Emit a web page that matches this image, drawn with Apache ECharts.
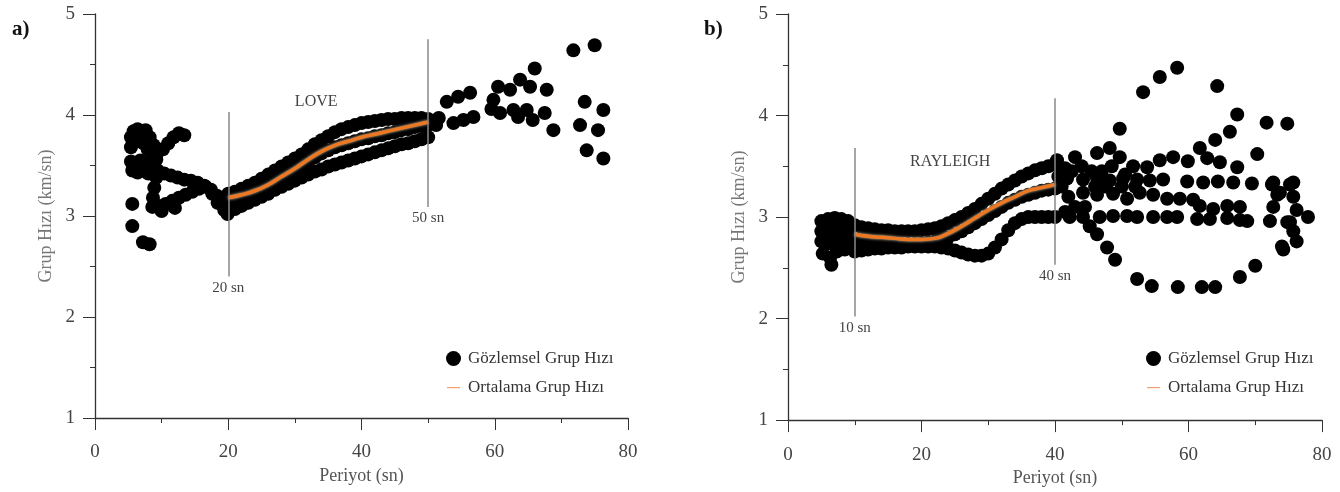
<!DOCTYPE html>
<html>
<head>
<meta charset="utf-8">
<script src="https://cdn.jsdelivr.net/npm/echarts@6/dist/echarts.min.js"></script>
<style>
  html, body { margin: 0; padding: 0; background: #fff; }
  #chart { width: 1340px; height: 492px; }
</style>
</head>
<body>
<div id="chart"></div>
<script>
// a) LOVE - gozlemsel grup hizi (kisa periyot dongusu)
var loveShort = [
    [5.4, 3.78], [5.8, 3.84], [6.4, 3.86], [7.0, 3.82], [7.6, 3.85], [8.2, 3.78], [5.4, 3.68],
    [6.4, 3.74], [7.3, 3.72], [7.9, 3.66], [8.6, 3.6], [9.2, 3.56],
    [8.8, 3.7], [9.4, 3.63], [10.2, 3.66], [11.0, 3.72], [11.8, 3.78], [12.6, 3.82], [13.4, 3.8],
    [5.4, 3.54], [6.0, 3.5], [6.8, 3.55], [7.6, 3.52], [8.4, 3.46], [9.4, 3.45], [10.4, 3.42],
    [5.6, 3.45], [6.4, 3.43], [7.2, 3.45], [8.0, 3.42],
    [11.4, 3.4], [12.4, 3.38], [13.4, 3.36], [14.4, 3.35], [15.4, 3.33], [16.4, 3.3], [17.4, 3.26],
    [18.3, 3.2], [18.9, 3.12], [19.4, 3.06], [19.9, 3.02],
    [9.2, 3.38], [8.9, 3.28], [8.7, 3.18],
    [8.6, 3.09], [9.6, 3.1], [10.6, 3.12], [11.6, 3.15], [12.6, 3.18], [13.6, 3.21], [14.6, 3.24],
    [15.6, 3.27], [16.6, 3.29], [17.6, 3.22], [18.4, 3.13], [10.0, 3.05], [12.0, 3.08],
    [5.6, 3.12], [5.6, 2.9], [7.2, 2.74], [8.2, 2.72]
];
var loveUpper = [
    [20, 3.22], [21, 3.24], [22, 3.27], [23, 3.3], [24, 3.33], [25, 3.37], [26, 3.41], [27, 3.45],
    [28, 3.49], [29, 3.53], [30, 3.57], [31, 3.61], [32, 3.66], [33, 3.71], [34, 3.75], [35, 3.79],
    [36, 3.83], [37, 3.86], [38, 3.88], [39, 3.9], [40, 3.92], [41, 3.93], [42, 3.94], [43, 3.95],
    [44, 3.96], [45, 3.96], [46, 3.97], [47, 3.97], [48, 3.97], [49, 3.97], [50, 3.96]
];
var loveMiddle = [
    [20, 3.14], [21, 3.16], [22, 3.18], [23, 3.2], [24, 3.23], [25, 3.26], [26, 3.29], [27, 3.33],
    [28, 3.37], [29, 3.41], [30, 3.45], [31, 3.5], [32, 3.54], [33, 3.58], [34, 3.62], [35, 3.65],
    [36, 3.68], [37, 3.7], [38, 3.72], [39, 3.74], [40, 3.76], [41, 3.77], [42, 3.79], [43, 3.8],
    [44, 3.82], [45, 3.83], [46, 3.85], [47, 3.86], [48, 3.88], [49, 3.89], [50, 3.9]
];
var loveLower = [
    [20, 3.04], [21, 3.07], [22, 3.1], [23, 3.13], [24, 3.16], [25, 3.19], [26, 3.22], [27, 3.26],
    [28, 3.29], [29, 3.32], [30, 3.35], [31, 3.38], [32, 3.41], [33, 3.44], [34, 3.46], [35, 3.49],
    [36, 3.51], [37, 3.53], [38, 3.55], [39, 3.57], [40, 3.59], [41, 3.61], [42, 3.63], [43, 3.65],
    [44, 3.67], [45, 3.69], [46, 3.71], [47, 3.72], [48, 3.74], [49, 3.76], [50, 3.78]
];
var loveLong = [
    [51.2, 3.9], [51.6, 3.97], [52.8, 4.13], [54.5, 4.18], [56.3, 4.22], [53.8, 3.92], [55.3, 3.95],
    [56.8, 3.98], [59.8, 4.15], [60.5, 4.28], [62.3, 4.25], [63.8, 4.35], [65.3, 4.28], [66.0, 4.46],
    [67.8, 4.25], [59.5, 4.06], [60.8, 4.02], [62.8, 4.05], [63.5, 3.98], [64.8, 4.05], [65.7, 3.95],
    [67.5, 4.02], [68.8, 3.85], [71.8, 4.64], [75.0, 4.69], [73.5, 4.13], [76.3, 4.05], [72.8, 3.9],
    [75.5, 3.85], [73.8, 3.65], [76.3, 3.57]
];
// a) ortalama grup hizi
var loveMean = [
    [20, 3.18], [22, 3.21], [24, 3.25], [26, 3.31], [28, 3.39], [30, 3.47], [32, 3.56], [34, 3.64],
    [36, 3.7], [38, 3.74], [40, 3.78], [42, 3.81], [44, 3.84], [46, 3.87], [48, 3.9], [50, 3.93]
];

// b) RAYLEIGH - gozlemsel grup hizi
var rayShort = [
    [5, 2.96], [6, 2.98], [7, 2.99], [8, 2.98], [9, 2.96], [5, 2.86], [6, 2.87], [7, 2.88], [8, 2.88],
    [9, 2.86], [5, 2.76], [6, 2.74], [7, 2.76], [8, 2.8], [9.5, 2.74], [5.2, 2.64], [6.3, 2.6],
    [7.3, 2.66], [6.5, 2.53], [8.5, 2.68]
];
var rayUpper = [
    [10, 2.92], [11, 2.9], [12, 2.89], [13, 2.88], [14, 2.87], [15, 2.87], [16, 2.86], [17, 2.86],
    [18, 2.86], [19, 2.86], [20, 2.87], [21, 2.88], [22, 2.89], [23, 2.91], [24, 2.94], [25, 2.97],
    [26, 3.0], [27, 3.04], [28, 3.08], [29, 3.13], [30, 3.18], [31, 3.23], [32, 3.28], [33, 3.32],
    [34, 3.36], [35, 3.4], [36, 3.43], [37, 3.46], [38, 3.48], [39, 3.5], [40, 3.52]
];
var rayMiddle = [
    [10, 2.78], [11, 2.77], [12, 2.76], [13, 2.75], [14, 2.75], [15, 2.74], [16, 2.74], [17, 2.73],
    [18, 2.73], [19, 2.73], [20, 2.74], [21, 2.75], [22, 2.76], [23, 2.78], [24, 2.8], [25, 2.83],
    [26, 2.86], [27, 2.9], [28, 2.94], [29, 2.98], [30, 3.02], [31, 3.06], [32, 3.1], [33, 3.14],
    [34, 3.17], [35, 3.2], [36, 3.22], [37, 3.24], [38, 3.26], [39, 3.27], [40, 3.28]
];
var rayLower = [
    [10, 2.66], [11, 2.67], [12, 2.68], [13, 2.69], [14, 2.69], [15, 2.7], [16, 2.7], [17, 2.7],
    [18, 2.71], [19, 2.71], [20, 2.71], [21, 2.71], [22, 2.71], [23, 2.7], [24, 2.69], [25, 2.67],
    [26, 2.65], [27, 2.63], [28, 2.62], [29, 2.62], [30, 2.64], [31, 2.7], [32, 2.78], [33, 2.87],
    [34, 2.94], [35, 2.98], [36, 3.0], [37, 3.0], [38, 3.0], [39, 3.0], [40, 3.0]
];
var rayLong = [
    [40.3, 3.56], [41.5, 3.48], [43.0, 3.59], [46.3, 3.63], [48.2, 3.68], [49.7, 3.87], [49.7, 3.59],
    [53.2, 4.23], [55.7, 4.38], [58.3, 4.47], [64.3, 4.29], [67.3, 4.01], [66.2, 3.84], [64.0, 3.76],
    [71.7, 3.93], [74.8, 3.92], [70.3, 3.62], [61.7, 3.68], [62.8, 3.58], [64.7, 3.54], [67.3, 3.49],
    [55.7, 3.56], [57.7, 3.59], [59.9, 3.55], [51.7, 3.5], [53.8, 3.49],
    [41.8, 3.38], [44.2, 3.37], [46.3, 3.38], [48.2, 3.36], [50.2, 3.38], [52.3, 3.37], [54.2, 3.36], [56.2, 3.37],
    [59.8, 3.35], [62.2, 3.34], [64.4, 3.35], [66.7, 3.34], [69.5, 3.33], [72.5, 3.32], [75.2, 3.32],
    [44.2, 3.24], [46.3, 3.22], [48.7, 3.23], [50.8, 3.18], [52.7, 3.24], [54.7, 3.22], [56.8, 3.18],
    [58.7, 3.18], [60.7, 3.17],
    [61.7, 3.11], [63.7, 3.08], [65.8, 3.11], [67.7, 3.1], [73.3, 3.22], [75.7, 3.2], [76.2, 3.07],
    [42.2, 3.0], [44.2, 3.0], [46.7, 3.0], [48.7, 3.01], [50.8, 3.01], [52.3, 3.0], [54.7, 3.0],
    [56.8, 3.0], [58.3, 3.0], [61.3, 2.98], [63.2, 2.98], [65.8, 2.99], [67.7, 2.97], [68.8, 2.96],
    [72.2, 2.96], [75.2, 2.95], [77.9, 3.0],
    [45.2, 2.91], [46.3, 2.83], [47.8, 2.7], [49.0, 2.58],
    [52.3, 2.39], [54.5, 2.32], [58.4, 2.31], [62.0, 2.31], [64.0, 2.31], [67.7, 2.41], [70.0, 2.52],
    [72.7, 3.1], [74.8, 2.95], [75.7, 2.86], [76.2, 2.76], [74.0, 2.71], [74.2, 2.68], [75.7, 3.34],
    [72.7, 3.34], [73.7, 3.24],
    [41, 3.3], [42, 3.2], [43, 3.1], [41.5, 3.05], [44.5, 3.1], [40.5, 3.4], [42.5, 3.45], [44, 3.5],
    [45.5, 3.45], [47, 3.45], [48.5, 3.5], [50.5, 3.42], [46, 3.3], [47.5, 3.3], [50, 3.3], [52, 3.3]
];
// b) ortalama grup hizi
var rayMean = [
    [10, 2.83], [12, 2.81], [14, 2.8], [16, 2.79], [18, 2.78], [20, 2.78], [22, 2.79], [24, 2.84],
    [26, 2.91], [28, 2.99], [30, 3.07], [32, 3.14], [34, 3.2], [36, 3.26], [38, 3.29], [40, 3.32]
];

// periyot sinirlari: [x, ust, alt, etiket]
var loveLimits = [[20, 4.03, 2.4, '20 sn'], [50, 4.75, 3.09, '50 sn']];
var rayLimits = [[10, 3.68, 2.02, '10 sn'], [40, 4.17, 2.53, '40 sn']];

var xTicks = { min: 0, max: 80, interval: 20 };
var yTicks = { min: 1, max: 5, interval: 1 };

var serif = 'Liberation Serif';
// ince cizgi ikonu (legend)
var lineIcon = 'path://M0,0 L0,0 M1,7 L14,7 L14,8.2 L1,8.2 Z M15,15 L15,15';

function makeX(idx) {
    return {
        type: 'value', gridIndex: idx,
        min: xTicks.min, max: xTicks.max, interval: xTicks.interval,
        name: 'Periyot (sn)', nameLocation: 'middle', nameGap: 45,
        nameTextStyle: { fontFamily: serif, fontSize: 18, color: '#555' },
        axisLine: { lineStyle: { color: '#333', width: 1.3 } },
        axisTick: { length: 12, lineStyle: { color: '#333' } },
        minorTick: { show: true, splitNumber: 2, length: 5, lineStyle: { color: '#333' } },
        splitLine: { show: false },
        axisLabel: { margin: 25, fontFamily: serif, fontSize: 19, color: '#444' }
    };
}

function makeY(idx) {
    return {
        type: 'value', gridIndex: idx,
        min: yTicks.min, max: yTicks.max, interval: yTicks.interval,
        name: 'Grup Hızı (km/sn)', nameLocation: 'middle', nameGap: 40,
        nameTextStyle: { fontFamily: serif, fontSize: 18, color: '#777' },
        axisLine: { lineStyle: { color: '#333', width: 1.3 } },
        axisTick: { length: 12, lineStyle: { color: '#333' } },
        minorTick: { show: true, splitNumber: 2, length: 5, lineStyle: { color: '#333' } },
        splitLine: { show: false },
        axisLabel: { margin: 20, fontFamily: serif, fontSize: 19, color: '#444' }
    };
}

function limitLines(limits) {
    return {
        silent: true,
        symbol: 'none',
        lineStyle: { color: '#888', width: 1.5, type: 'solid', opacity: 1 },
        label: { show: true, position: 'end', distance: 4, fontFamily: serif, fontSize: 15, color: '#444' },
        data: limits.map(function (l) {
            return [{ coord: [l[0], l[1]] }, { coord: [l[0], l[2]], label: { formatter: l[3] } }];
        })
    };
}

function obsSeries(idx, pts, limits) {
    return {
        name: 'Gözlemsel Grup Hızı', type: 'scatter',
        xAxisIndex: idx, yAxisIndex: idx,
        symbol: 'circle', symbolSize: 14,
        itemStyle: { color: '#000', opacity: 1 },
        data: pts,
        markLine: limitLines(limits),
        z: 2
    };
}

function meanSeries(idx, pts, title, pos) {
    return {
        name: 'Ortalama Grup Hızı', type: 'line',
        xAxisIndex: idx, yAxisIndex: idx,
        smooth: true, showSymbol: false, symbol: 'none',
        lineStyle: { color: '#ee7722', width: 3.5, shadowColor: 'rgba(255,235,200,0.9)', shadowBlur: 3 },
        itemStyle: { color: '#ee7722' },
        data: pts,
        markPoint: {
            silent: true, symbol: 'rect', symbolSize: 1,
            itemStyle: { color: 'rgba(0,0,0,0)' },
            label: { show: true, position: 'inside', formatter: title, fontFamily: serif, fontSize: 16, color: '#444' },
            data: [{ coord: pos }]
        },
        z: 3
    };
}

function makeLegend(left) {
    return {
        left: left, top: 345, orient: 'vertical',
        itemWidth: 15, itemHeight: 15, itemGap: 12,
        textStyle: { fontFamily: serif, fontSize: 17, color: '#333', padding: [0, 0, 0, 2] },
        data: [
            { name: 'Gözlemsel Grup Hızı', icon: 'circle', itemStyle: { color: '#000', opacity: 1 } },
            { name: 'Ortalama Grup Hızı', icon: lineIcon, itemStyle: { color: '#f4a070' } }
        ]
    };
}

var chart = echarts.init(document.getElementById('chart'));
var option = {
    animation: false,
    backgroundColor: '#fff',
    title: [
        { text: 'a)', left: 7, top: 14, textStyle: { fontFamily: serif, fontSize: 21, fontWeight: 'bold', color: '#111' } },
        { text: 'b)', left: 699, top: 14, textStyle: { fontFamily: serif, fontSize: 21, fontWeight: 'bold', color: '#111' } }
    ],
    legend: [makeLegend(441), makeLegend(1141)],
    grid: [
        { left: 95, top: 14, width: 533, height: 404 },
        { left: 788, top: 14, width: 534, height: 407 }
    ],
    xAxis: [makeX(0), makeX(1)],
    yAxis: [makeY(0), makeY(1)],
    series: [
        obsSeries(0, loveShort.concat(loveUpper, loveMiddle, loveLower, loveLong), loveLimits),
        meanSeries(0, loveMean, 'LOVE', [33.2, 4.13]),
        obsSeries(1, rayShort.concat(rayUpper, rayMiddle, rayLower, rayLong), rayLimits),
        meanSeries(1, rayMean, 'RAYLEIGH', [24.3, 3.54])
    ]
};
chart.setOption(option);
</script>
</body>
</html>
